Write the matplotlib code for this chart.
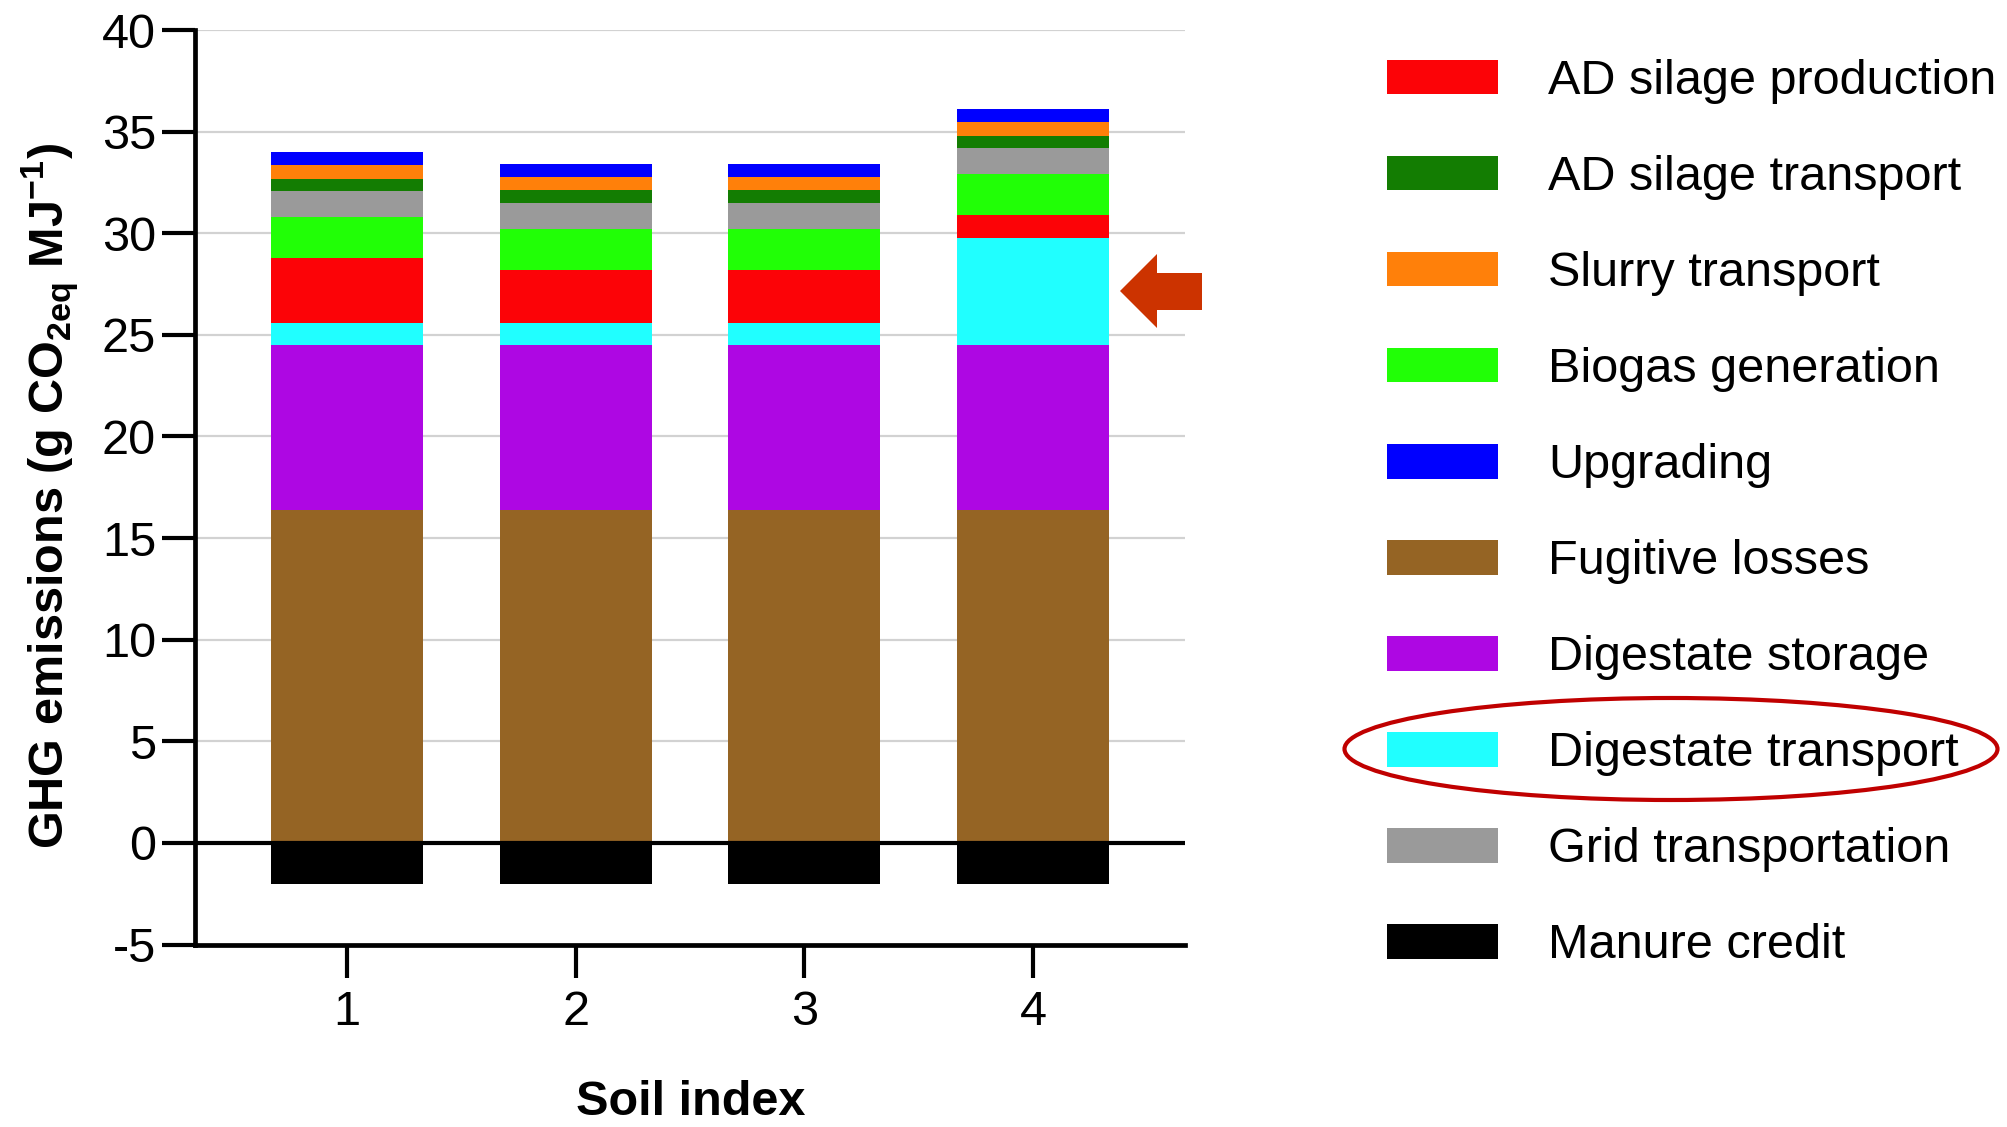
import numpy as np
import matplotlib
matplotlib.use("Agg")
import matplotlib.pyplot as plt
from matplotlib.patches import Patch, Ellipse, Polygon

plt.rcParams['font.family'] = ['Liberation Sans', 'DejaVu Sans']
plt.rcParams['mathtext.fontset'] = 'custom'
plt.rcParams['mathtext.rm'] = 'Liberation Sans'
plt.rcParams['mathtext.bf'] = 'Liberation Sans:bold'
plt.rcParams['axes.unicode_minus'] = False

# soil index on x axis
soil_index = [1, 2, 3, 4]

# stacked contributions, bottom to top (g CO2eq / MJ)
fugitive_losses = [16.4, 16.4, 16.4, 16.4]
digestate_storage = [8.1, 8.1, 8.1, 8.1]
digestate_transport = [1.08, 1.08, 1.08, 5.27]
ad_silage_production = [3.22, 2.61, 2.61, 1.13]
biogas_generation = [2.0, 2.0, 2.0, 2.0]
grid_transportation = [1.3, 1.32, 1.32, 1.29]
ad_silage_transport = [0.57, 0.62, 0.62, 0.59]
slurry_transport = [0.69, 0.66, 0.66, 0.69]
upgrading = [0.63, 0.61, 0.61, 0.63]
manure_credit = [-2.0, -2.0, -2.0, -2.0]

stack = [
    ("Fugitive losses", fugitive_losses, "#956424"),
    ("Digestate storage", digestate_storage, "#AE07E3"),
    ("Digestate transport", digestate_transport, "#20FFFF"),
    ("AD silage production", ad_silage_production, "#FC0307"),
    ("Biogas generation", biogas_generation, "#21FF06"),
    ("Grid transportation", grid_transportation, "#9A9A9A"),
    ("AD silage transport", ad_silage_transport, "#137D02"),
    ("Slurry transport", slurry_transport, "#FF800A"),
    ("Upgrading", upgrading, "#0000FF"),
]
colors = {name: c for name, _, c in stack}
colors["Manure credit"] = "#000000"

legend_order = ["AD silage production", "AD silage transport", "Slurry transport",
                "Biogas generation", "Upgrading", "Fugitive losses", "Digestate storage",
                "Digestate transport", "Grid transportation", "Manure credit"]

W, H = 2008, 1127
fig = plt.figure(figsize=(W / 100, H / 100), dpi=100)
ax = fig.add_axes([195 / W, 1 - 944.6 / H, 990 / W, 914.6 / H])

width = 0.664
bottom = np.zeros(len(soil_index))
for name, vals, col in stack:
    ax.bar(soil_index, vals, width, bottom=bottom, color=col, zorder=3)
    bottom += np.array(vals)
ax.bar(soil_index, manure_credit, width, color="#000000", zorder=3)

ax.set_xlim(1 - width, 4 + width)
ax.set_ylim(-5, 40)
ax.set_yticks(np.arange(-5, 41, 5))
ax.set_xticks(soil_index)
for y in range(5, 41, 5):
    ax.axhline(y, color="#d2d2d2", lw=1.6, zorder=1)
ax.axhline(0, color="black", lw=3.0, zorder=4)

ax.spines["top"].set_visible(False)
ax.spines["right"].set_visible(False)
ax.spines["left"].set_linewidth(3.4)
ax.spines["bottom"].set_linewidth(3.4)
ax.tick_params(axis="both", length=24, width=3.0, labelsize=35)
ax.tick_params(axis="y", pad=4)
ax.tick_params(axis="x", pad=9)

fig.text(0.025, 0.56, r"GHG emissions (g CO$_{\mathbf{2eq}}$ MJ$^{\mathbf{-1}}$)",
         rotation=90, ha="center", va="center", fontsize=35, fontweight="bold")
fig.text(691 / W, 1 - 1125 / H, "Soil index", ha="center", va="bottom",
         fontsize=35, fontweight="bold")

handles = [Patch(facecolor=colors[n], label=n) for n in legend_order]
fig.legend(handles=handles, loc="upper left", bbox_to_anchor=(1387 / W, 1 - 59 / H),
           frameon=False, fontsize=35, handlelength=2.28, handleheight=0.72,
           handletextpad=1.03, labelspacing=1.05, borderpad=0, borderaxespad=0)

# highlight around the digestate transport entry
fig.patches.append(Ellipse((1671 / W, 1 - 749 / H), 653 / W, 102 / H,
                           transform=fig.transFigure, fill=False,
                           edgecolor="#C00000", lw=3))
arrow_px = [(1120, 291), (1157, 254), (1157, 273), (1202, 273),
            (1202, 310), (1157, 310), (1157, 328)]
fig.patches.append(Polygon([(x / W, 1 - y / H) for x, y in arrow_px],
                           closed=True, transform=fig.transFigure,
                           facecolor="#CC3300", edgecolor="none"))

fig.savefig("out.png", dpi=100)
